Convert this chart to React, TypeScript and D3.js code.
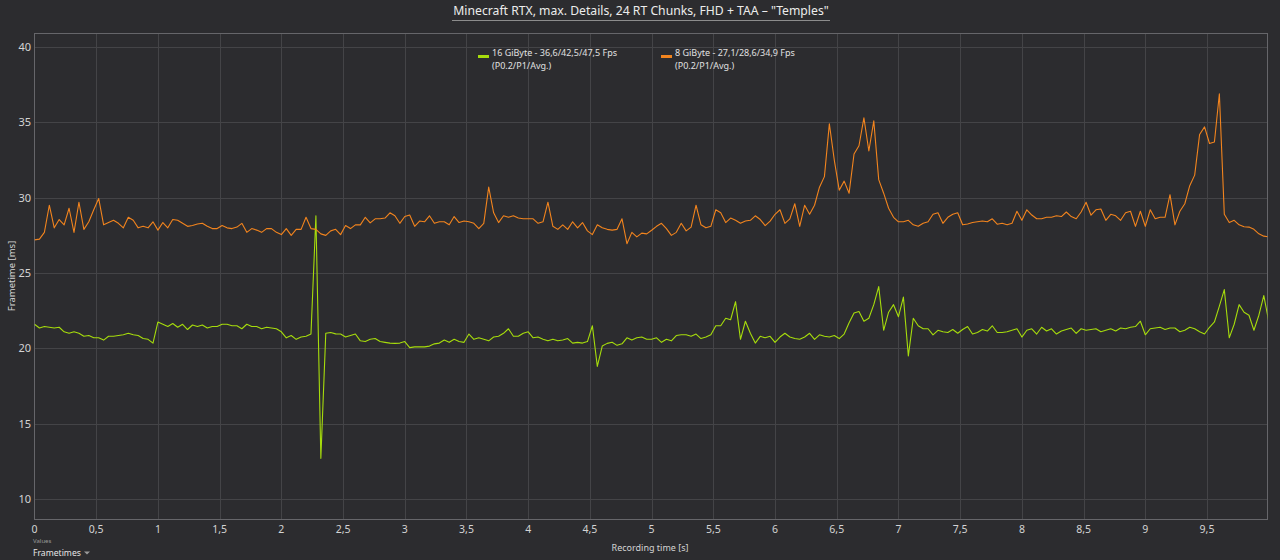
import React from "react";
import * as d3 from "d3";

// Abmessungen
const WIDTH = 1280;
const HEIGHT = 560;
const LEFT = 34.5;
const RIGHT = 1267.5;
const TOP = 33.5;
const BOTTOM = 519.5;

const STEP_S = 0.04;

const frametimes16GB: number[] = [
  21.6, 21.35, 21.45, 21.4, 21.35, 21.4, 21.1, 21.0, 21.1, 21.0,
  20.8, 20.85, 20.7, 20.7, 20.55, 20.8, 20.8, 20.85, 20.9, 21.0,
  20.9, 20.85, 20.65, 20.6, 20.35, 21.75, 21.6, 21.45, 21.65, 21.4,
  21.6, 21.25, 21.55, 21.45, 21.55, 21.35, 21.45, 21.45, 21.6, 21.6,
  21.5, 21.5, 21.3, 21.6, 21.45, 21.45, 21.3, 21.4, 21.35, 21.3,
  21.1, 20.7, 20.85, 20.6, 20.75, 20.8, 20.95, 28.8, 12.7, 21.0,
  21.05, 20.96, 20.95, 20.75, 20.85, 20.95, 20.5, 20.45, 20.6, 20.65,
  20.45, 20.4, 20.35, 20.33, 20.35, 20.45, 20.05, 20.1, 20.1, 20.1,
  20.15, 20.3, 20.35, 20.55, 20.4, 20.6, 20.45, 20.4, 20.95, 20.6,
  20.7, 20.6, 20.5, 20.75, 20.8, 21.0, 21.3, 20.8, 20.8, 21.0,
  21.1, 20.7, 20.75, 20.6, 20.5, 20.6, 20.5, 20.55, 20.65, 20.35,
  20.4, 20.35, 20.45, 21.5, 18.8, 20.15, 20.33, 20.4, 20.2, 20.3,
  20.7, 20.55, 20.7, 20.75, 20.6, 20.6, 20.7, 20.4, 20.6, 20.5,
  20.85, 20.9, 20.9, 20.8, 20.95, 20.65, 20.75, 20.9, 21.5, 21.5,
  22.0, 21.9, 23.1, 20.6, 21.8, 21.0, 20.35, 20.8, 20.7, 20.8,
  20.4, 20.75, 21.0, 20.75, 20.65, 20.6, 20.75, 21.0, 20.6, 20.9,
  20.8, 20.75, 20.85, 20.65, 20.95, 21.7, 22.35, 22.45, 21.8, 22.0,
  22.9, 24.1, 21.2, 22.4, 22.9, 22.1, 23.4, 19.5, 22.0, 21.5,
  21.3, 21.3, 20.9, 21.2, 21.1, 21.05, 21.25, 21.0, 21.25, 21.45,
  20.95, 21.05, 21.25, 21.15, 21.5, 21.05, 21.05, 21.1, 21.2, 21.3,
  20.75, 21.2, 21.3, 20.95, 21.4, 21.15, 21.3, 20.95, 21.15, 21.25,
  21.35, 21.0, 21.3, 21.2, 21.25, 21.3, 21.1, 21.2, 21.3, 21.15,
  21.35, 21.3, 21.4, 21.45, 21.8, 20.9, 21.3, 21.35, 21.4, 21.25,
  21.35, 21.35, 21.1, 21.2, 21.4, 21.3, 21.1, 20.95, 21.4, 21.75,
  22.8, 23.9, 20.7, 21.6, 22.9, 22.4, 22.2, 21.2, 22.2, 23.5,
  21.8,
];

const frametimes8GB: number[] = [
  27.2, 27.25, 27.7, 29.5, 28.0, 28.55, 28.2, 29.3, 27.7, 29.7,
  27.9, 28.4, 29.2, 29.95, 28.2, 28.35, 28.5, 28.3, 28.0, 28.7,
  28.5, 28.0, 28.1, 28.0, 28.4, 27.85, 28.35, 28.0, 28.55, 28.5,
  28.3, 28.1, 28.15, 28.25, 28.3, 28.1, 27.95, 27.95, 28.15, 28.0,
  27.95, 28.05, 28.3, 27.7, 27.95, 27.85, 27.7, 27.95, 27.95, 27.7,
  27.55, 27.95, 27.5, 27.9, 27.9, 28.7, 27.95, 27.9, 27.6, 27.5,
  27.8, 27.9, 27.55, 28.15, 27.95, 28.2, 28.2, 28.7, 28.33, 28.6,
  28.6, 28.65, 29.0, 28.8, 28.3, 28.75, 28.85, 28.1, 28.45, 28.4,
  28.8, 28.3, 28.4, 28.4, 28.2, 28.75, 28.35, 28.45, 28.4, 28.3,
  27.95, 28.3, 30.7, 29.0, 28.35, 28.8, 28.7, 28.8, 28.65, 28.6,
  28.6, 28.6, 28.3, 28.4, 29.7, 28.1, 27.9, 28.2, 27.9, 28.4,
  28.0, 28.35, 27.8, 27.55, 28.2, 28.0, 27.9, 27.85, 27.9, 28.6,
  26.95, 27.7, 27.4, 27.65, 27.6, 27.84, 28.1, 28.3, 27.95, 27.5,
  27.7, 28.3, 27.8, 28.05, 29.5, 28.2, 28.0, 28.1, 29.2, 29.0,
  28.35, 28.65, 28.5, 28.3, 28.45, 28.5, 28.8, 28.55, 28.15, 28.45,
  28.9, 29.2, 28.3, 28.6, 29.6, 28.1, 29.5, 28.9, 29.5, 30.7,
  31.4, 34.9, 32.5, 30.5, 31.1, 30.3, 32.9, 33.45, 35.3, 33.1,
  35.1, 31.2, 30.3, 29.3, 28.7, 28.4, 28.4, 28.5, 28.2, 28.1,
  28.3, 28.4, 28.9, 29.0, 28.3, 28.7, 28.9, 29.0, 28.2, 28.25,
  28.35, 28.4, 28.45, 28.4, 28.6, 28.24, 28.3, 28.2, 28.3, 29.1,
  28.5, 29.2, 28.85, 28.6, 28.6, 28.7, 28.7, 28.8, 28.75, 29.05,
  28.75, 28.6, 29.05, 29.7, 28.84, 29.2, 29.25, 28.5, 28.9, 28.8,
  28.5, 29.0, 29.1, 28.1, 29.1, 28.1, 29.2, 28.6, 28.7, 28.7,
  30.2, 28.2, 29.1, 29.6, 30.8, 31.5, 34.2, 34.7, 33.6, 33.7,
  36.9, 28.9, 28.35, 28.5, 28.2, 28.07, 28.05, 27.9, 27.6, 27.45,
  27.4,
];

const xTicks: number[] = [0, 0.5, 1, 1.5, 2, 2.5, 3, 3.5, 4, 4.5, 5, 5.5, 6, 6.5, 7, 7.5, 8, 8.5, 9, 9.5];
const yTicks: number[] = [10, 15, 20, 25, 30, 35, 40];

const series = [
  { name: "16 GiByte - 36,6/42,5/47,5 Fps", values: frametimes16GB, color: "#a6dc0c" },
  { name: "8 GiByte - 27,1/28,6/34,9 Fps", values: frametimes8GB, color: "#f2841e" },
];

const FONT = "'Noto Sans', 'Open Sans', sans-serif";

const App: React.FC = () => {
  const x = d3.scaleLinear().domain([0, 9.99]).range([LEFT, RIGHT]);
  const y = d3.scaleLinear().domain([8.64, 40.9]).range([BOTTOM, TOP]);

  const line = d3
    .line<number>()
    .x((_, i) => x(i * STEP_S))
    .y((d) => y(d));

  const fmt = (v: number) => String(v).replace(".", ",");

  return (
    <svg
      width={WIDTH}
      height={HEIGHT}
      style={{ position: "absolute", left: 0, top: 0, fontFamily: FONT }}
    >
      <rect width={WIDTH} height={HEIGHT} fill="#2c2c2f" />
      <defs>
        <clipPath id="plot">
          <rect x={LEFT} y={TOP} width={RIGHT - LEFT} height={BOTTOM - TOP} />
        </clipPath>
      </defs>

      {/* Titel */}
      <text x={641} y={15} textAnchor="middle" fill="#ececec" fontSize={12.2}>
        Minecraft RTX, max. Details, 24 RT Chunks, FHD + TAA – "Temples"
      </text>
      <line x1={452} x2={830} y1={20.5} y2={20.5} stroke="#8c8c8c" />

      {/* Gitter */}
      {yTicks.map((t) => (
        <line key={"gy" + t} x1={LEFT} x2={RIGHT} y1={Math.round(y(t)) + 0.5} y2={Math.round(y(t)) + 0.5} stroke="#444447" />
      ))}
      {xTicks.filter((t) => t > 0).map((t) => (
        <line key={"gx" + t} x1={Math.round(x(t)) + 0.5} x2={Math.round(x(t)) + 0.5} y1={TOP} y2={BOTTOM} stroke="#444447" />
      ))}
      <rect x={LEFT} y={TOP} width={RIGHT - LEFT} height={BOTTOM - TOP} fill="none" stroke="#66666a" />

      {/* Linien */}
      <g clipPath="url(#plot)">
        {series.map((s) => (
          <path key={s.name} d={line(s.values) || ""} fill="none" stroke={s.color} strokeWidth={1.1} strokeLinejoin="round" />
        ))}
      </g>

      {/* Achsen */}
      {yTicks.map((t) => (
        <text key={"ty" + t} x={31} y={y(t) + 4} textAnchor="end" fill="#d4d4d4" fontSize={11}>
          {t}
        </text>
      ))}
      {xTicks.map((t) => (
        <text key={"tx" + t} x={x(t)} y={533} textAnchor="middle" fill="#d4d4d4" fontSize={10.5}>
          {fmt(t)}
        </text>
      ))}
      <text transform={`translate(15,276) rotate(-90)`} textAnchor="middle" fill="#d4d4d4" fontSize={9.5}>
        Frametime [ms]
      </text>
      <text x={650} y={551} textAnchor="middle" fill="#d4d4d4" fontSize={9}>
        Recording time [s]
      </text>
      <text x={33} y={543} fill="#9a9a9a" fontSize={6}>
        Values
      </text>
      <text x={33} y={556} fill="#e6e6e6" fontSize={8.6}>
        Frametimes
      </text>
      <path d="M84,551.5 L90,551.5 L87,554.5 Z" fill="#9a9a9a" />

      {/* Legende */}
      {series.map((s, i) => {
        const lx = i === 0 ? 478 : 661;
        return (
          <g key={"lg" + s.name}>
            <rect x={lx} y={55} width={11} height={3} fill={s.color} />
            <text x={lx + 14} y={56} fill="#e0e0e0" fontSize={9}>
              {s.name}
            </text>
            <text x={lx + 14} y={69} fill="#e0e0e0" fontSize={9}>
              (P0.2/P1/Avg.)
            </text>
          </g>
        );
      })}
    </svg>
  );
};

export default App;
